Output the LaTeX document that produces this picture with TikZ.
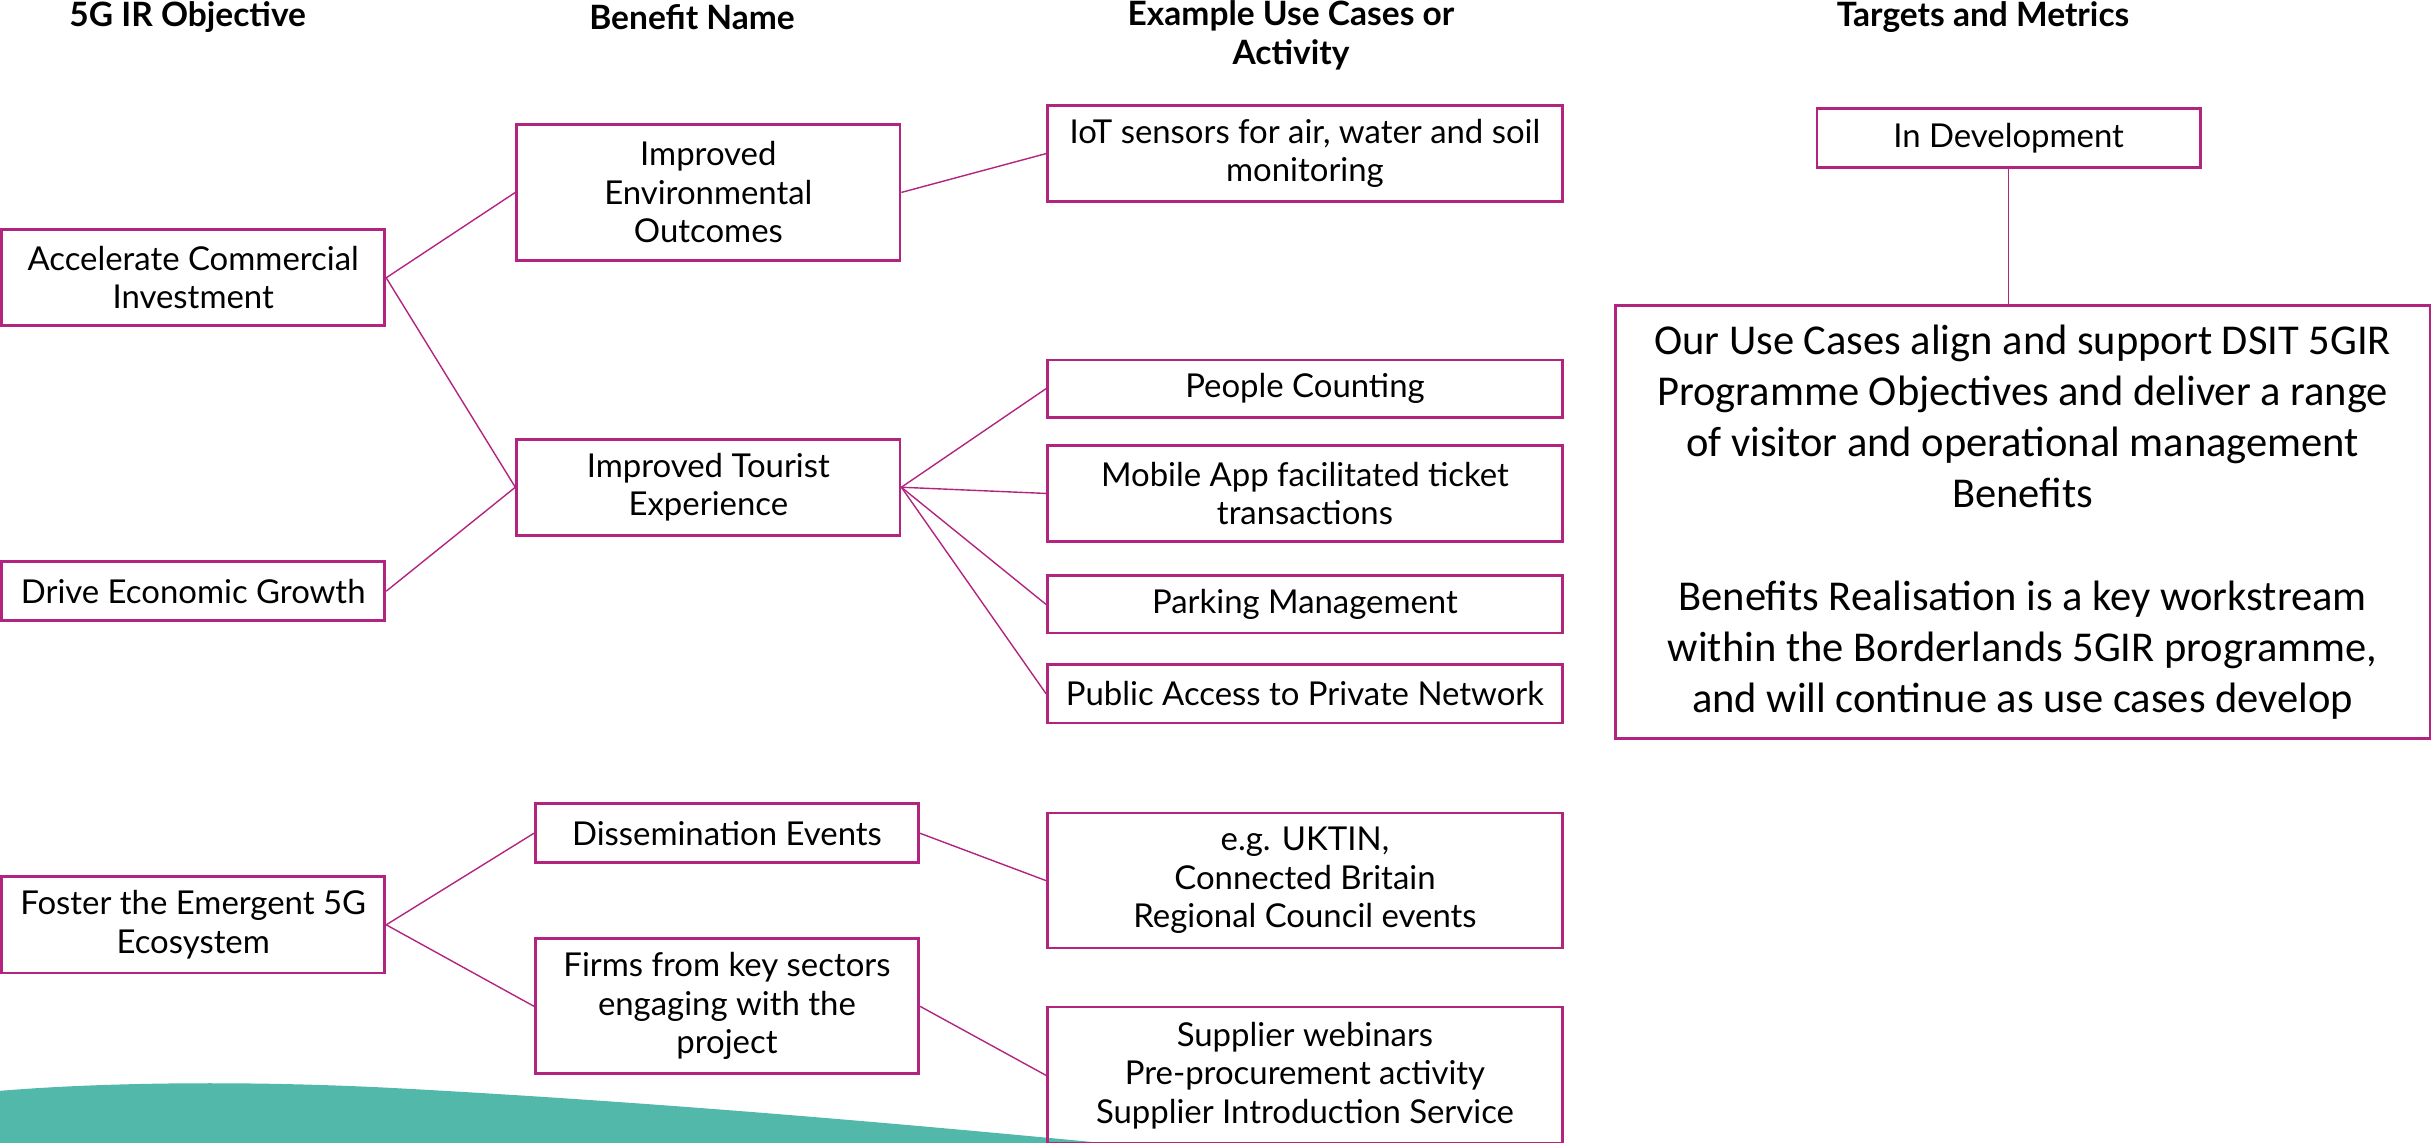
\documentclass[tikz,border=0pt]{standalone}
\usepackage{fontspec}
\setmainfont{Lato}
\newfontfamily\calib{Carlito}
\definecolor{mag}{HTML}{B3247F}
\definecolor{teal5}{HTML}{52B9AA}
\begin{document}
\begin{tikzpicture}[x=0.5pt,y=-0.5pt,
  box/.style={draw=mag, line width=0.9pt, rectangle, inner sep=0pt, align=center, font=\fontsize{10.6}{12.4}\selectfont, minimum width=123.5pt},
  wide/.style={box, minimum width=166pt},
  hdr/.style={font=\bfseries\fontsize{10.8}{12.4}\selectfont, align=center, inner sep=0pt},
  conn/.style={draw=mag, line width=0.45pt}]
\useasboundingbox (0,0) rectangle (1568,736);
% background wave
\fill[teal5] (0,703) .. controls (60,698) and (150,696) .. (250,701) .. controls (420,710) and (580,724) .. (725,738) -- (0,738) -- cycle;
% headers
\node[hdr] (h1) at (121,11) {5G IR Objective};
\node[hdr] (h2) at (446,11) {Benefit Name};
\node[hdr, anchor=north] (h3) at (832,0) {Example Use Cases or\\Activity};
\node[hdr] (h4) at (1278,11) {Targets and Metrics};
% objectives
\node[box, minimum height=31pt] (aci) at (124.5,179) {Accelerate Commercial\\Investment};
\node[box, minimum height=19pt] (deg) at (124.5,381) {Drive Economic Growth};
\node[box, minimum height=31pt] (fe5) at (124.5,596) {Foster the Emergent 5G\\Ecosystem};
% benefits
\node[box, minimum height=44pt] (ieo) at (456.5,124) {Improved\\Environmental\\Outcomes};
\node[box, minimum height=31pt] (ite) at (456.5,314) {Improved Tourist\\Experience};
\node[box, minimum height=19pt] (de) at (468.5,537) {Dissemination Events};
\node[box, minimum height=43.5pt] (fks) at (468.5,648.5) {Firms from key sectors\\engaging with the\\project};
% use cases
\node[wide, minimum height=31pt] (iot) at (841,99) {IoT sensors for air, water and soil\\monitoring};
\node[wide, minimum height=18.5pt] (pc) at (841,250.5) {People Counting};
\node[wide, minimum height=31pt] (ma) at (841,318) {Mobile App facilitated ticket\\transactions};
\node[wide, minimum height=18.5pt] (pm) at (841,389.5) {Parking Management};
\node[wide, minimum height=19pt] (pa) at (841,447) {Public Access to Private Network};
\node[wide, minimum height=43.5pt] (uk) at (841,567.5) {e.g. UKTIN,\\Connected Britain\\Regional Council events};
\node[wide, minimum height=44pt] (sw) at (841,693) {Supplier webinars\\Pre-procurement activity\\Supplier Introduction Service};
% targets
\node[box, minimum height=19pt] (dev) at (1294.5,89) {In Development};
\node[box, minimum width=262.5pt, minimum height=139.5pt, font=\calib\fontsize{13.7}{16.5}\selectfont] (big) at (1303.5,336.5) {Our Use Cases align and support DSIT 5GIR\\Programme Objectives and deliver a range\\of visitor and operational management\\Benefits\\[16.5pt]Benefits Realisation is a key workstream\\within the Borderlands 5GIR programme,\\and will continue as use cases develop};
% connectors
\draw[conn] (aci.east) -- (ieo.west);
\draw[conn] (aci.east) -- (ite.west);
\draw[conn] (deg.east) -- (ite.west);
\draw[conn] (ieo.east) -- (iot.west);
\draw[conn] (ite.east) -- (pc.west);
\draw[conn] (ite.east) -- (ma.west);
\draw[conn] (ite.east) -- (pm.west);
\draw[conn] (ite.east) -- (pa.west);
\draw[conn] (fe5.east) -- (de.west);
\draw[conn] (fe5.east) -- (fks.west);
\draw[conn] (de.east) -- (uk.west);
\draw[conn] (fks.east) -- (sw.west);
\draw[conn] (dev.south) -- (dev.south |- big.north);
\end{tikzpicture}
\end{document}
